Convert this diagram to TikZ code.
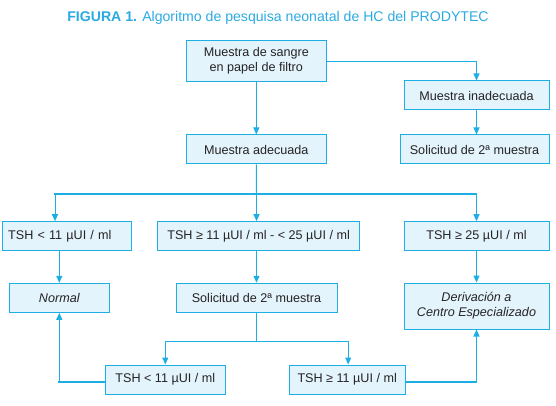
\documentclass[tikz,border=0pt]{standalone}
\usepackage{fontspec}
\setmainfont{Liberation Sans}
\usetikzlibrary{arrows.meta}
\definecolor{lineblue}{HTML}{1EAEE6}
\definecolor{boxfill}{HTML}{E3F4FC}
\definecolor{titleblue}{HTML}{2AAAE1}
\definecolor{txt}{HTML}{262324}
\begin{document}
\begin{tikzpicture}[x=1pt,y=-1pt,
  box/.style={draw=lineblue, line width=1pt, fill=boxfill, inner sep=0pt, align=center,
    text=txt, font=\fontsize{12.6}{15}\selectfont},
  conn/.style={draw=lineblue, line width=1pt, -{Triangle[length=7pt,width=6pt]}},
  plain/.style={draw=lineblue, line width=1pt},
  thick line/.style={draw=lineblue, line width=1.8pt, line cap=rect}]
\useasboundingbox (0,0) rectangle (556,406);
\node[text=titleblue, font=\fontsize{14.1}{17}\selectfont] (title) at (278,18) {\textbf{FIGURA 1.} Algoritmo de pesquisa neonatal de HC del PRODYTEC};
% boxes
\node[box, minimum width=139.5pt, minimum height=41pt] (b1) at (256.3,61.2) {Muestra de sangre\\en papel de filtro};
\node[box, minimum width=145pt, minimum height=29pt] (inad) at (476.5,95.5) {Muestra inadecuada};
\node[box, minimum width=139.5pt, minimum height=29pt] (adec) at (256.3,149.5) {Muestra adecuada};
\node[box, minimum width=149pt, minimum height=29pt] (sol1) at (474.5,149.5) {Solicitud de 2ª muestra};
\node[box, minimum width=129pt, minimum height=29pt, text width=118pt, align=left] (t1) at (67.2,236.2) {TSH < 11 µUI / ml};
\node[box, minimum width=202.7pt, minimum height=29pt] (t2) at (258.6,236.2) {TSH ≥ 11 µUI / ml - < 25 µUI / ml};
\node[box, minimum width=145pt, minimum height=29pt] (t3) at (476.5,236.2) {TSH ≥ 25 µUI / ml};
\node[box, minimum width=100pt, minimum height=29pt] (normal) at (59.3,297.8) {\itshape Normal};
\node[box, minimum width=161pt, minimum height=29pt] (sol2) at (256.5,297.8) {Solicitud de 2ª muestra};
\node[box, minimum width=145pt, minimum height=46pt] (deriv) at (476.5,306) {\itshape Derivación a\\\itshape Centro Especializado};
\node[box, minimum width=120pt, minimum height=29pt] (b4) at (165.3,379.5) {TSH < 11 µUI / ml};
\node[box, minimum width=115.7pt, minimum height=29pt] (b5) at (347.2,379.5) {TSH ≥ 11 µUI / ml};
% helper coordinates
\coordinate (br1) at (256.5,194);
\coordinate (brL) at (55,194);
\coordinate (brR) at (476.5,194);
\coordinate (br2) at (256.5,341);
\coordinate (retL) at (59.3,381.7);
\coordinate (retR) at (476.5,381.7);
% connectors
\draw[conn] (b1.east) -| (inad.north);
\draw[conn] (b1.south) -- (adec.north);
\draw[conn] (inad.south) -- ([xshift=2pt]sol1.north);
\draw[plain] (adec.south) -- (br1);
\draw[thick line] (brL) -- (brR);
\draw[conn] (brL) -- (brL |- t1.north);
\draw[conn] (brR) -- (t3.north);
\draw[conn] (br1) -- ([xshift=-2.1pt]t2.north);
\draw[conn] ([xshift=-7.9pt]t1.south) -- (normal.north);
\draw[conn] ([xshift=-2.1pt]t2.south) -- (sol2.north);
\draw[conn] (t3.south) -- (deriv.north);
\draw[plain] (sol2.south) -- (br2);
\draw[conn] (br2) -| (b4.north);
\draw[conn] (br2) -| ([xshift=1pt]b5.north);
\draw[thick line] (b4.west |- retL) -- (retL);
\draw[conn, line width=1.3pt] (retL) -- (normal.south);
\draw[thick line] (b5.east |- retR) -- (retR);
\draw[conn, line width=1.3pt] (retR) -- (deriv.south);
\end{tikzpicture}
\end{document}
